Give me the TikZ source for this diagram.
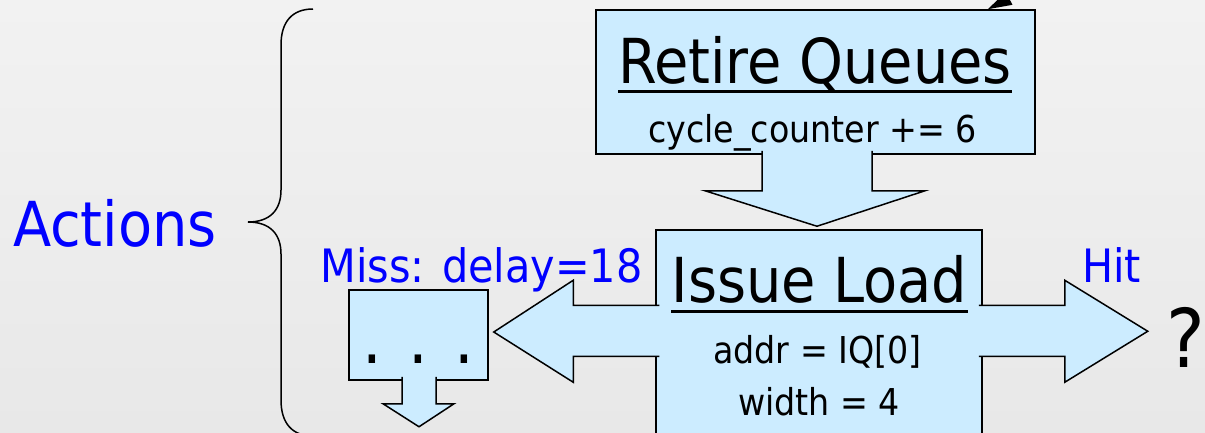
\documentclass[tikz,border=0pt]{standalone}
\usepackage{fontspec}
\setmainfont{DejaVu Sans Condensed}
\usetikzlibrary{arrows.meta,calc}
\definecolor{BoxClr}{RGB}{204,236,255}
\definecolor{TxtClr}{RGB}{0,0,255}
\definecolor{BgTopClr}{RGB}{242,242,242}
\definecolor{BgBotClr}{RGB}{232,232,232}

\begin{document}
\begin{tikzpicture}[x=1pt,y=-1pt,
  box/.style={draw,fill=BoxClr,line width=1.5pt,inner sep=0pt},
  blockarrow/.style={draw,fill=BoxClr,line width=1.5pt,line join=miter},
  titletxt/.style={font=\fontsize{62}{70}\selectfont,anchor=base,inner sep=0pt},
  codetxt/.style={font=\fontsize{37}{44}\selectfont,anchor=base,inner sep=0pt},
  condtxt/.style={font=\fontsize{46}{52}\selectfont,text=TxtClr,anchor=base,inner sep=0pt}]

\useasboundingbox (0,0) rectangle (1205,432);
\clip (0,0) rectangle (1205,432);
\shade[top color=BgTopClr,bottom color=BgBotClr] (0,0) rectangle (1205,432);

\node[box,minimum width=439pt,minimum height=144pt] (retire) at (815.5,82) {};
\node[box,minimum width=326pt,minimum height=230pt] (issue) at (819,345) {};
\node[box,minimum width=139pt,minimum height=90pt] (dots) at (418.5,335) {};

\coordinate (feed) at (1045,-20);
\draw[line width=2pt,-{Triangle[length=24pt,width=14pt]}] (feed) -- ($(retire.north east)+(-48,0)$);

\draw[blockarrow] ($(retire.south)+(-53.5,-4)$) -- ($(retire.south)+(-53.5,36)$)
  -- ($(retire.south)+(-110.5,36)$) -- ($(issue.north)+(-2,-3)$)
  -- ($(retire.south)+(109.5,36)$) -- ($(retire.south)+(56.5,36)$)
  -- ($(retire.south)+(56.5,-4)$);
\draw[blockarrow] ($(issue.north west)+(4,76)$) -- ($(issue.north west)+(-82,76)$)
  -- ($(issue.north west)+(-82,51)$) -- ($(dots.east)+(5,-3)$)
  -- ($(issue.north west)+(-82,153)$) -- ($(issue.north west)+(-82,127)$)
  -- ($(issue.north west)+(4,127)$);
\draw[blockarrow] ($(issue.north east)+(-4,76)$) -- ($(issue.north east)+(82,76)$)
  -- ($(issue.north east)+(82,51)$) -- ($(issue.north east)+(165,102)$)
  -- ($(issue.north east)+(82,153)$) -- ($(issue.north east)+(82,127)$)
  -- ($(issue.north east)+(-4,127)$);
\draw[blockarrow] ($(dots.south)+(-16.5,-4)$) -- ($(dots.south)+(-16.5,23)$)
  -- ($(dots.south)+(-35.5,23)$) -- ($(dots.south)+(0.5,46)$)
  -- ($(dots.south)+(35.5,23)$) -- ($(dots.south)+(17.5,23)$)
  -- ($(dots.south)+(17.5,-4)$);

\node[titletxt] (rqtitle) at (815,83) {Retire Queues};
\draw[line width=3pt] ($(rqtitle.base west)+(0,8)$) -- ($(rqtitle.base east)+(0,8)$);
\node[codetxt] (rqcycle) at (812.5,142) {cycle\_counter += 6};

\node[titletxt] (iltitle) at (819.5,302) {Issue Load};
\draw[line width=3pt] ($(iltitle.base west)+(0,9)$) -- ($(iltitle.base east)+(0,9)$);
\node[codetxt] (iladdr) at (817.5,363) {addr = IQ[0]};
\node[codetxt] (ilwidth) at (819,415) {width = 4};

\node[titletxt,font=\fontsize{69}{70}\selectfont] (dotstxt) at (418.5,363) {. . .};

\node[condtxt] (miss) at (481.5,282) {Miss: delay=18};
\node[condtxt] (hit) at (1111.5,282) {Hit};
\node[titletxt,anchor=base east,font=\fontsize{81}{90}\selectfont] (quest) at (1205,367) {?};

\node[titletxt,text=TxtClr] (actions) at (115,246) {Actions};
\draw[line width=1.5pt] (313,9) .. controls (292,9) and (281,22) .. (281,45) -- (281,190)
  .. controls (281,210) and (270,222) .. (248,222) .. controls (270,222) and (281,234) .. (281,254)
  -- (281,400) .. controls (281,423) and (292,436) .. (313,436);

\end{tikzpicture}
\end{document}
